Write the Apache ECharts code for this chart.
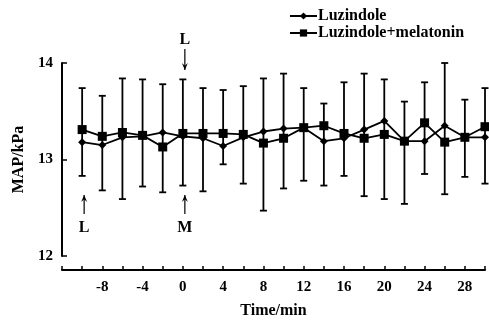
<!DOCTYPE html>
<html>
<head>
<meta charset="utf-8">
<script src="https://cdn.jsdelivr.net/npm/echarts@6/dist/echarts.min.js"></script>
<style>
  html, body { margin: 0; padding: 0; background: #fff; }
  #chart { width: 489px; height: 324px; }
</style>
</head>
<body>
<div id="chart"></div>
<script>
const times = [-10, -8, -6, -4, -2, 0, 2, 4, 6, 8, 10, 12, 14, 16, 18, 20, 22, 24, 26, 28, 30];
const luzindole = [13.18, 13.15, 13.23, 13.24, 13.28, 13.24, 13.22, 13.14, 13.23, 13.29, 13.32,
  13.33, 13.19, 13.22, 13.31, 13.40, 13.19, 13.19, 13.35, 13.23, 13.23];
const luzMelatonin = [13.31, 13.24, 13.28, 13.25, 13.13, 13.27, 13.27, 13.27, 13.26, 13.17, 13.22,
  13.33, 13.35, 13.27, 13.22, 13.26, 13.19, 13.38, 13.18, 13.23, 13.34];
// error bar ends (as drawn, both groups overlapping)
const errHigh = [13.74, 13.66, 13.84, 13.83, 13.78, 13.83, 13.74, 13.72, 13.76, 13.84, 13.89,
  13.74, 13.58, 13.80, 13.89, 13.83, 13.60, 13.80, 14.00, 13.62, 13.74];
const errLow = [12.83, 12.68, 12.59, 12.72, 12.66, 12.73, 12.67, 12.95, 12.75, 12.47, 12.70,
  12.78, 12.73, 12.83, 12.62, 12.59, 12.54, 12.85, 12.64, 12.82, 12.75];
const xTickLabels = [-8, -4, 0, 4, 8, 12, 16, 20, 24, 28];
const seriesNames = ["Luzindole", "Luzindole+melatonin"];
const annotations = [
  { t: 0, label: "L", dir: "down" },
  { t: 0, label: "M", dir: "up" },
  { t: -10, label: "L", dir: "up" },
];

const FONT = '"Liberation Serif", "DejaVu Serif", serif';
const chart = echarts.init(document.getElementById("chart"));

function renderErrorBar(params, api) {
  const x = api.value(0);
  const top = api.coord([x, api.value(2)]);
  const bot = api.coord([x, api.value(1)]);
  const w = 3.5;
  const style = { stroke: "#000", lineWidth: 1.8 };
  return {
    type: "group",
    children: [
      { type: "line", shape: { x1: top[0], y1: top[1], x2: bot[0], y2: bot[1] }, style },
      { type: "line", shape: { x1: top[0] - w, y1: top[1], x2: top[0] + w, y2: top[1] }, style },
      { type: "line", shape: { x1: bot[0] - w, y1: bot[1], x2: bot[0] + w, y2: bot[1] }, style },
    ],
  };
}

const option = {
  animation: false,
  textStyle: { fontFamily: FONT },
  grid: { left: 62, right: 4, top: 63, bottom: 66 },
  legend: {
    data: seriesNames,
    orient: "vertical",
    left: 284,
    top: 3,
    itemWidth: 27,
    itemHeight: 9,
    itemGap: 1,
    textStyle: { fontFamily: FONT, fontWeight: "bold", fontSize: 16, color: "#000", padding: [0, 0, 0, -4] },
  },
  xAxis: {
    type: "value",
    min: -12,
    max: 30,
    interval: 2,
    offset: 14,
    name: "Time/min",
    nameLocation: "middle",
    nameGap: 33,
    nameTextStyle: { fontFamily: FONT, fontWeight: "bold", fontSize: 16, color: "#000" },
    axisLine: { onZero: false, lineStyle: { color: "#000", width: 2 } },
    axisTick: { inside: true, length: 4, lineStyle: { color: "#000", width: 1.5 } },
    axisLabel: {
      margin: 10,
      fontFamily: FONT,
      fontWeight: "bold",
      fontSize: 15,
      color: "#000",
      formatter: (v) => (xTickLabels.includes(v) ? String(v) : ""),
    },
    splitLine: { show: false },
  },
  yAxis: {
    type: "value",
    min: 12,
    max: 14,
    interval: 1,
    name: "MAP/kPa",
    nameLocation: "middle",
    nameGap: 34,
    nameTextStyle: { fontFamily: FONT, fontWeight: "bold", fontSize: 16, color: "#000" },
    axisLine: { onZero: false, lineStyle: { color: "#000", width: 2 } },
    axisTick: { inside: true, length: 5, lineStyle: { color: "#000", width: 1.5 } },
    axisLabel: { margin: 9, fontFamily: FONT, fontWeight: "bold", fontSize: 15, color: "#000" },
    splitLine: { show: false },
  },
  series: [
    {
      type: "custom",
      name: "sd",
      renderItem: renderErrorBar,
      data: times.map((t, i) => [t, errLow[i], errHigh[i]]),
      z: 1,
      silent: true,
    },
    {
      name: seriesNames[0],
      type: "line",
      data: times.map((t, i) => [t, luzindole[i]]),
      symbol: "diamond",
      symbolSize: 8,
      lineStyle: { color: "#000", width: 1.8 },
      itemStyle: { color: "#000" },
      z: 3,
    },
    {
      name: seriesNames[1],
      type: "line",
      data: times.map((t, i) => [t, luzMelatonin[i]]),
      symbol: "rect",
      symbolSize: 9,
      lineStyle: { color: "#000", width: 1.8 },
      itemStyle: { color: "#000" },
      z: 3,
    },
  ],
};

chart.setOption(option);

// arrow annotations (L = luzindole, M = melatonin given)
const graphics = [];
annotations.forEach((a) => {
  const x = chart.convertToPixel({ gridIndex: 0 }, [a.t, 13])[0] + 2;
  const down = a.dir === "down";
  const head = down ? 70 : 195;
  const tail = down ? 49 : 214;
  const textY = down ? 40 : 228;
  const hs = down ? -7 : 7;
  graphics.push(
    { type: "line", shape: { x1: x, y1: tail, x2: x, y2: head }, style: { stroke: "#000", lineWidth: 1.2 } },
    { type: "polygon", shape: { points: [[x, head], [x - 3, head + hs], [x, head + hs * 0.6], [x + 3, head + hs]] }, style: { fill: "#000" } },
    {
      type: "text",
      x: x,
      y: textY,
      style: { text: a.label, font: "bold 16px " + FONT, fill: "#000", align: "center", verticalAlign: "middle" },
    }
  );
});
chart.setOption({ graphic: graphics });
</script>
</body>
</html>
